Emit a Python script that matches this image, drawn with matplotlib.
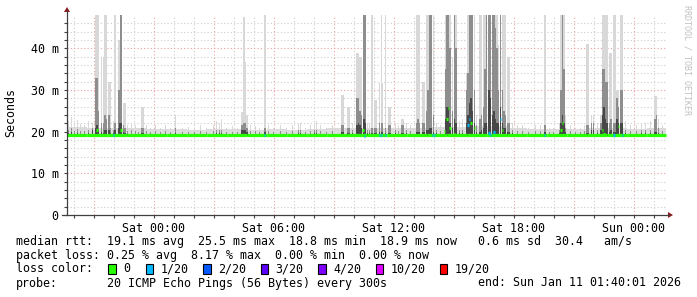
import numpy as np
import matplotlib.pyplot as plt
from matplotlib.patches import Rectangle, Polygon
from matplotlib.lines import Line2D

# time axis: hours relative to Sat 00:00, 5 minute steps
data_start, data_end = -4.33, 25.62
step = 5 / 60

# background smoke / median, one value per hour
base_t = [-4.33, -3.33, -2.33, -1.33, -0.33, 0.67, 1.67, 2.67, 3.67, 4.67,
          5.67, 6.67, 7.67, 8.67, 9.67, 10.67, 11.67, 12.67, 13.67, 14.67,
          15.67, 16.67, 17.67, 18.67, 19.67, 20.67, 21.67, 22.67, 23.67, 24.67]
base_smoke = [21.2, 21.0, 20.8, 20.8, 20.6, 20.6, 20.5, 20.6, 20.6, 20.5,
              20.6, 20.5, 20.7, 20.8, 20.8, 20.9, 21.0, 21.0, 21.2, 21.2,
              21.4, 21.4, 20.8, 20.6, 20.6, 20.6, 21.0, 20.8, 20.7, 20.9]
base_median = [19.2, 19.1, 19.1, 19.1, 19.1, 19.1, 19.1, 19.1, 19.1, 19.1,
               19.1, 19.1, 19.1, 19.1, 19.1, 19.1, 19.1, 19.1, 19.1, 19.1,
               19.1, 19.1, 19.1, 19.1, 19.1, 19.1, 19.1, 19.1, 19.1, 19.1]

# smoke columns that stand out: max, 90th and 75th percentile (ms)
smoke_t = [-4.25, -4.10, -3.95, -3.80, -3.65, -3.45, -3.25, -3.05, -2.90, -2.83,
           -2.75, -2.60, -2.50, -2.43, -2.35, -2.23, -2.15, -2.00, -1.93, -1.75,
           -1.68, -1.63, -1.50, -1.43, -1.30, -1.10, -0.90, -0.75, -0.58, -0.50,
           -0.35, -0.15, 0.10, 0.35, 0.60, 0.85, 1.10, 1.45, 1.75, 2.05,
           2.35, 2.65, 3.00, 3.15, 3.30, 3.40, 3.65, 3.95, 4.20, 4.40,
           4.48, 4.53, 4.60, 4.68, 4.85, 5.10, 5.30, 5.58, 5.75, 6.00,
           6.35, 6.65, 6.95, 7.25, 7.35, 7.60, 7.85, 8.05, 8.15, 8.35,
           8.65, 8.95, 9.40, 9.48, 9.70, 9.78, 9.95, 10.18, 10.25, 10.33,
           10.40, 10.53, 10.60, 10.70, 10.80, 10.93, 11.05, 11.13, 11.30, 11.39,
           11.45, 11.60, 11.78, 11.85, 12.10, 12.25, 12.40, 12.48, 12.65, 12.85,
           13.15, 13.23, 13.30, 13.48, 13.55, 13.65, 13.73, 13.80, 13.88, 14.00,
           14.15, 14.35, 14.60, 14.68, 14.75, 14.83, 14.95, 15.05, 15.13, 15.30,
           15.45, 15.65, 15.73, 15.80, 15.88, 15.95, 16.05, 16.15, 16.33, 16.40,
           16.50, 16.58, 16.65, 16.78, 16.85, 16.95, 17.03, 17.10, 17.18, 17.25,
           17.35, 17.45, 17.53, 17.60, 17.70, 17.78, 17.95, 18.20, 18.45, 18.75,
           19.10, 19.35, 19.58, 19.80, 20.00, 20.30, 20.38, 20.45, 20.53, 20.60,
           20.85, 21.10, 21.35, 21.55, 21.68, 21.75, 21.90, 22.00, 22.20, 22.38,
           22.45, 22.53, 22.60, 22.68, 22.80, 22.88, 23.03, 23.10, 23.18, 23.25,
           23.38, 23.45, 23.60, 23.85, 24.15, 24.40, 24.60, 24.85, 25.08, 25.15,
           25.25, 25.45]
smoke_max = [22.5, 23.5, 21.5, 22.8, 21.8, 21.5, 22.5, 22.0, 60, 60,
             60, 38.0, 38.0, 60, 60, 32.0, 32.0, 22.5, 60, 42.0,
             42.0, 60, 27.0, 27.0, 21.5, 22.0, 21.5, 21.0, 26.0, 26.0,
             21.5, 21.0, 21.5, 21.0, 21.5, 21.0, 24.0, 21.0, 21.2, 21.0,
             21.5, 21.0, 21.5, 22.5, 22.0, 23.0, 21.0, 21.3, 21.0, 24.7,
             24.7, 47.5, 36.7, 24.0, 21.5, 21.3, 21.0, 60, 21.5, 21.0,
             21.5, 21.0, 21.5, 22.0, 22.0, 21.0, 21.5, 22.0, 22.5, 21.5,
             21.0, 21.5, 28.8, 28.8, 26.0, 26.0, 22.0, 39.0, 39.0, 38.0,
             38.0, 60, 60, 22.0, 22.0, 60, 27.6, 27.6, 31.6, 60,
             31.6, 60, 26.0, 26.0, 22.0, 21.5, 23.0, 23.0, 22.0, 21.5,
             60, 60, 60, 32.0, 32.0, 60, 60, 60, 60, 60,
             22.0, 21.5, 60, 60, 60, 60, 38.0, 60, 60, 22.5,
             23.0, 34.0, 60, 60, 60, 60, 60, 24.0, 60, 60,
             60, 60, 60, 60, 60, 60, 60, 60, 60, 40.8,
             60, 60, 60, 60, 38.0, 38.0, 22.0, 21.5, 21.5, 21.0,
             21.5, 21.5, 60, 21.0, 21.0, 22.0, 60, 60, 60, 24.0,
             21.5, 21.0, 21.0, 21.5, 41.0, 41.0, 24.0, 24.0, 22.0, 24.0,
             60, 60, 60, 60, 39.0, 39.0, 60, 60, 30.0, 30.0,
             60, 60, 22.5, 21.5, 21.5, 22.0, 22.0, 22.5, 28.5, 28.5,
             23.0, 21.5]
smoke_p90 = [20.5, 21.0, 20.2, 20.6, 20.2, 20.2, 20.4, 21.0, 33.0, 33.0,
             25.0, 22.0, 22.0, 24.0, 23.0, 24.0, 21.0, 20.3, 22.0, 30.0,
             30.0, 60, 21.5, 21.0, 20.2, 20.3, 20.2, 20.0, 21.0, 21.0,
             20.2, 20.0, 20.2, 20.0, 20.2, 20.0, 21.0, 20.0, 20.0, 20.0,
             20.2, 20.0, 20.2, 20.5, 20.3, 20.5, 20.0, 20.0, 20.0, 21.5,
             21.5, 22.0, 22.0, 21.0, 20.2, 20.2, 20.0, 21.0, 20.2, 20.0,
             20.2, 20.0, 20.2, 20.3, 20.3, 20.0, 20.2, 20.3, 20.5, 20.2,
             20.0, 20.2, 21.5, 21.5, 21.0, 21.0, 20.3, 28.0, 28.0, 25.0,
             24.0, 60, 60, 20.5, 20.5, 21.0, 21.0, 21.0, 22.0, 22.0,
             22.0, 21.0, 21.5, 21.5, 20.3, 20.2, 21.5, 21.5, 20.3, 20.2,
             22.0, 23.0, 22.0, 22.0, 22.0, 25.0, 30.0, 60, 50.0, 24.0,
             20.3, 20.2, 35.0, 60, 60, 40.0, 25.0, 60, 40.0, 20.5,
             20.5, 30.0, 34.0, 60, 60, 50.0, 30.0, 21.5, 23.0, 24.0,
             26.0, 35.0, 60, 60, 60, 60, 60, 45.0, 40.0, 30.0,
             60, 30.0, 25.0, 24.0, 22.0, 22.0, 20.3, 20.2, 20.2, 20.0,
             20.2, 20.2, 21.5, 20.0, 20.0, 20.5, 30.0, 60, 35.0, 21.0,
             20.2, 20.0, 20.0, 20.2, 21.5, 21.5, 22.0, 22.0, 20.3, 22.0,
             35.0, 35.0, 32.0, 32.0, 22.0, 23.0, 22.0, 22.0, 28.0, 26.0,
             30.0, 30.0, 20.5, 20.2, 20.2, 20.3, 20.3, 20.5, 23.0, 24.0,
             21.0, 20.2]
smoke_p75 = [19.8, 20.0, 19.5, 19.8, 19.5, 19.5, 19.6, 20.5, 21.0, 21.5,
             20.5, 20.0, 19.8, 20.5, 20.5, 20.5, 19.8, 19.6, 20.5, 21.0,
             22.0, 22.0, 20.0, 19.8, 19.5, 19.5, 19.5, 19.5, 19.6, 19.6,
             19.5, 19.5, 19.5, 19.5, 19.5, 19.5, 19.6, 19.5, 19.5, 19.5,
             19.5, 19.5, 19.5, 19.6, 19.6, 19.6, 19.5, 19.5, 19.5, 20.5,
             20.5, 20.5, 20.5, 20.0, 19.5, 19.5, 19.5, 20.0, 19.5, 19.5,
             19.5, 19.5, 19.5, 19.6, 19.6, 19.5, 19.5, 19.6, 19.6, 19.5,
             19.5, 19.5, 20.0, 20.0, 19.8, 19.8, 19.6, 21.5, 22.0, 21.5,
             21.0, 23.0, 22.0, 19.8, 19.8, 19.8, 19.8, 19.8, 20.0, 20.0,
             20.0, 19.8, 19.8, 19.8, 19.6, 19.5, 19.8, 19.8, 19.6, 19.5,
             20.0, 20.0, 20.0, 20.0, 20.0, 20.5, 20.5, 21.0, 21.0, 20.0,
             19.6, 19.5, 23.0, 26.0, 26.0, 22.0, 21.0, 23.0, 22.0, 19.6,
             19.6, 22.0, 24.0, 27.0, 28.0, 25.0, 22.0, 20.0, 20.0, 20.5,
             21.0, 22.0, 22.0, 30.0, 28.0, 24.0, 25.0, 23.0, 22.0, 22.0,
             26.0, 22.0, 21.0, 21.0, 20.0, 20.0, 19.6, 19.5, 19.5, 19.5,
             19.5, 19.5, 20.0, 19.5, 19.5, 19.8, 22.0, 24.0, 22.0, 20.0,
             19.5, 19.5, 19.5, 19.5, 19.8, 19.8, 20.5, 20.5, 19.6, 20.5,
             24.0, 26.0, 23.0, 22.0, 20.0, 20.5, 20.0, 20.0, 23.0, 22.0,
             22.0, 22.0, 19.6, 19.5, 19.5, 19.6, 19.6, 19.6, 20.0, 20.0,
             19.6, 19.5]

# median samples that leave the base line, with lost pings out of 20
med_t = [-2.83, -2.00, -1.63, 5.55, 10.48, 10.55, 11.30, 11.40, 11.60, 13.95,
         14.05, 14.55, 14.68, 14.75, 14.83, 15.05, 15.73, 15.80, 15.88, 16.05,
         16.78, 16.85, 17.03, 17.35, 17.45, 19.55, 20.38, 20.45, 22.45, 22.53,
         23.03, 23.25, 23.45]
med_v = [20.4, 19.1, 20.3, 19.1, 20.5, 19.0, 19.1, 19.1, 19.1, 19.1,
         19.1, 20.2, 23.0, 25.6, 21.0, 19.5, 21.6, 23.0, 22.0, 21.0,
         19.6, 19.1, 20.0, 23.0, 20.5, 19.1, 20.5, 22.0, 20.5, 19.5,
         19.1, 21.3, 19.1]
med_loss = [0, 1, 0, 1, 0, 1, 1, 1, 1, 1,
            1, 0, 0, 0, 0, 0, 1, 1, 0, 0,
            1, 1, 1, 1, 0, 1, 0, 0, 0, 0,
            1, 0, 1]

loss_levels = [0, 1, 2, 3, 4, 10, 19]
loss_colors = ['#26ff00', '#00b8ff', '#0059ff', '#5e00ff', '#7e00ff', '#dd00ff', '#ff0000']
loss_labels = ['0', '1/20', '2/20', '3/20', '4/20', '10/20', '19/20']

W, H = 697, 297
mono = 'DejaVu Sans Mono'
fs = 8.4


def fx(x):
    return x / W


def fy(y):
    return 1 - y / H


fig = plt.figure(figsize=(W / 100, H / 100), dpi=100)
fig.patch.set_facecolor('white')
ax = fig.add_axes([fx(67), fy(215), 600 / W, 200 / H])
ax.set_xlim(-4.333, 25.667)
ax.set_ylim(0, 48)

# grid
for h in range(-4, 26):
    c = '#eaa0a0' if h % 3 == 0 else '#cccccc'
    ax.axvline(h, color=c, lw=0.8, ls=(0, (1, 2)), zorder=0)
for v in range(2, 48, 2):
    c = '#eaa0a0' if v % 10 == 0 else '#cccccc'
    ax.axhline(v, color=c, lw=0.8, ls=(0, (1, 2)), zorder=0)

# smoke
edges = base_t + [data_end]
ax.stairs(base_smoke, edges, baseline=18.8, fill=True, color='#dcdcdc', zorder=1)
st = np.array(smoke_t)
ax.bar(st, np.array(smoke_max) - 18.8, bottom=18.8, width=step,
       color='#d8d8d8', linewidth=0, zorder=2)
ax.bar(st, np.array(smoke_p90) - 19.0, bottom=19.0, width=step,
       color='#8e8e8e', linewidth=0, zorder=3)
ax.bar(st, np.array(smoke_p75) - 19.0, bottom=19.0, width=step,
       color='#474747', linewidth=0, zorder=4)

# median line coloured by loss
ax.hlines(base_median, base_t, edges[1:], colors=loss_colors[0], lw=2.3, zorder=5)
mt = np.array(med_t)
mcol = [loss_colors[loss_levels.index(l)] for l in med_loss]
ax.hlines(med_v, mt - step / 2, mt + step / 2, colors=mcol, lw=2.3, zorder=6)

# axes
for s in ax.spines.values():
    s.set_visible(False)
ax.set_xticks([0, 6, 12, 18, 24])
ax.set_xticklabels(['Sat 00:00', 'Sat 06:00', 'Sat 12:00', 'Sat 18:00', 'Sun 00:00'],
                   fontfamily=mono, fontsize=fs)
ax.set_xticks(range(-4, 26), minor=True)
ax.set_yticks([0, 10, 20, 30, 40])
ax.set_yticklabels(['0', '10 m', '20 m', '30 m', '40 m'], fontfamily=mono, fontsize=fs)
ax.set_yticks(range(0, 48, 2), minor=True)
ax.tick_params(which='both', length=2, width=0.8, color='#404040', pad=3)
ax.tick_params(axis='y', which='major', pad=4)

fig.add_artist(Line2D([fx(62), fx(669)], [fy(215), fy(215)], color='#404040', lw=0.9))
fig.add_artist(Line2D([fx(67), fx(67)], [fy(215), fy(11)], color='#404040', lw=0.9))
fig.add_artist(Polygon([(fx(64), fy(12)), (fx(70), fy(12)), (fx(67), fy(7))],
                       closed=True, color='#8b1a1a', lw=0))
fig.add_artist(Polygon([(fx(668), fy(212)), (fx(668), fy(218)), (fx(673), fy(215))],
                       closed=True, color='#8b1a1a', lw=0))

fig.text(fx(11), fy(113), 'Seconds', rotation=90, ha='center', va='center',
         fontfamily=mono, fontsize=fs)
fig.text(fx(687), fy(5), 'RRDTOOL / TOBI OETIKER', rotation=270, ha='center', va='top',
         fontfamily=mono, fontsize=6, color='#c0c0c0')

# legend
fig.text(fx(16), fy(241), 'median rtt:  19.1 ms avg  25.5 ms max  18.8 ms min  '
         '18.9 ms now   0.6 ms sd  30.4   am/s', fontfamily=mono, fontsize=fs, va='center')
fig.text(fx(16), fy(255), 'packet loss: 0.25 % avg  8.17 % max  0.00 % min  0.00 % now',
         fontfamily=mono, fontsize=fs, va='center')
fig.text(fx(16), fy(269), 'loss color:', fontfamily=mono, fontsize=fs, va='center')
box_x = [108.3, 145.7, 203.3, 260.6, 318.3, 376.0, 440.0]
for bx, c, lab in zip(box_x, loss_colors, loss_labels):
    fig.add_artist(Rectangle((fx(bx), fy(274)), 7.3 / W, 10.3 / H, facecolor=c,
                             edgecolor='black', lw=0.8))
    fig.text(fx(bx + 15), fy(269), lab, fontfamily=mono, fontsize=fs, va='center')
fig.text(fx(16), fy(283), 'probe:', fontfamily=mono, fontsize=fs, va='center')
fig.text(fx(107), fy(283), '20 ICMP Echo Pings (56 Bytes) every 300s',
         fontfamily=mono, fontsize=fs, va='center')
fig.text(fx(681), fy(283), 'end: Sun Jan 11 01:40:01 2026',
         fontfamily=mono, fontsize=fs, va='center', ha='right')

fig.savefig('out.png', dpi=100, facecolor='white')
